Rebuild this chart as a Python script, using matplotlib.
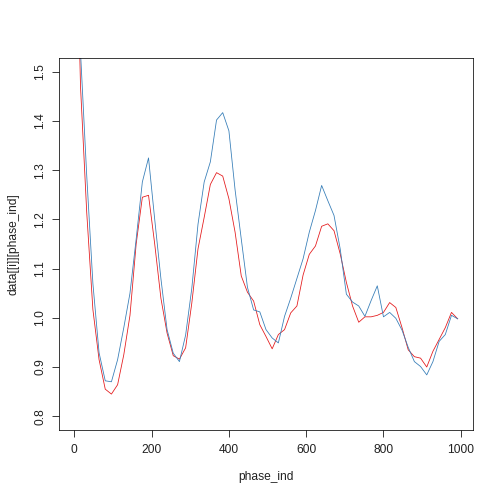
import numpy as np
import matplotlib
matplotlib.use("Agg")
import matplotlib.pyplot as plt

plt.rcParams['font.family'] = ['Liberation Sans', 'DejaVu Sans']

phase_ind = np.arange(0, 1000, 16)

series_red = [
    2.0, 1.47, 1.215, 1.017, 0.915, 0.855, 0.845, 0.864, 0.925, 1.005,
    1.15, 1.245, 1.249, 1.15, 1.04, 0.969, 0.923, 0.916, 0.939, 1.03,
    1.14, 1.204, 1.271, 1.295, 1.288, 1.242, 1.174, 1.085, 1.052, 1.034,
    0.986, 0.962, 0.937, 0.966, 0.976, 1.010, 1.024, 1.087, 1.129, 1.146,
    1.186, 1.191, 1.177, 1.13, 1.072, 1.024, 0.991, 1.002, 1.002, 1.005,
    1.011, 1.031, 1.021, 0.98, 0.935, 0.921, 0.918, 0.900, 0.932, 0.956,
    0.980, 1.011, 0.998,
]

series_blue = [
    2.1, 1.54, 1.29, 1.07, 0.929, 0.872, 0.870, 0.915, 0.98, 1.05,
    1.16, 1.276, 1.325, 1.20, 1.08, 0.976, 0.928, 0.911, 0.965, 1.06,
    1.19, 1.276, 1.317, 1.402, 1.417, 1.380, 1.26, 1.16, 1.062, 1.016,
    1.012, 0.976, 0.959, 0.949, 1.003, 1.04, 1.08, 1.12, 1.174, 1.218,
    1.269, 1.238, 1.208, 1.14, 1.048, 1.032, 1.024, 1.003, 1.035, 1.065,
    1.002, 1.011, 0.999, 0.975, 0.94, 0.911, 0.901, 0.884, 0.911, 0.952,
    0.966, 1.005, 0.998,
]

xticks = [0, 200, 400, 600, 800, 1000]
yticks = [0.8, 0.9, 1.0, 1.1, 1.2, 1.3, 1.4, 1.5]

fig = plt.figure(figsize=(7, 7), dpi=72)
ax = fig.add_axes([59 / 504, 1 - 430 / 504, 414 / 504, 372 / 504])

ax.plot(phase_ind, series_red, color='#E41A1C', lw=0.8)
ax.plot(phase_ind, series_blue, color='#377EB8', lw=0.8)

# R-style 4% padding around the data / ylim
xr = phase_ind.max() - phase_ind.min()
ax.set_xlim(phase_ind.min() - 0.04 * xr, phase_ind.max() + 0.04 * xr)
ax.set_ylim(0.8 - 0.04 * 0.7, 1.5 + 0.04 * 0.7)

ax.set_xticks(xticks)
ax.set_xticklabels([str(t) for t in xticks])
ax.set_yticks(yticks)
ax.set_yticklabels([f'{t:.1f}' for t in yticks], rotation=90, va='center')
ax.tick_params(direction='out', length=7, width=0.75, labelsize=12,
               color='black', labelcolor='#222222')
ax.tick_params(axis='x', pad=7)
ax.tick_params(axis='y', pad=6)

for s in ax.spines.values():
    s.set_linewidth(0.75)
    s.set_color('black')

ax.set_xlabel('phase_ind', fontsize=12, labelpad=15, color='#222222')
ax.set_ylabel('data[[i]][phase_ind]', fontsize=12, labelpad=14, color='#222222')

fig.savefig('out.png', dpi=72)
